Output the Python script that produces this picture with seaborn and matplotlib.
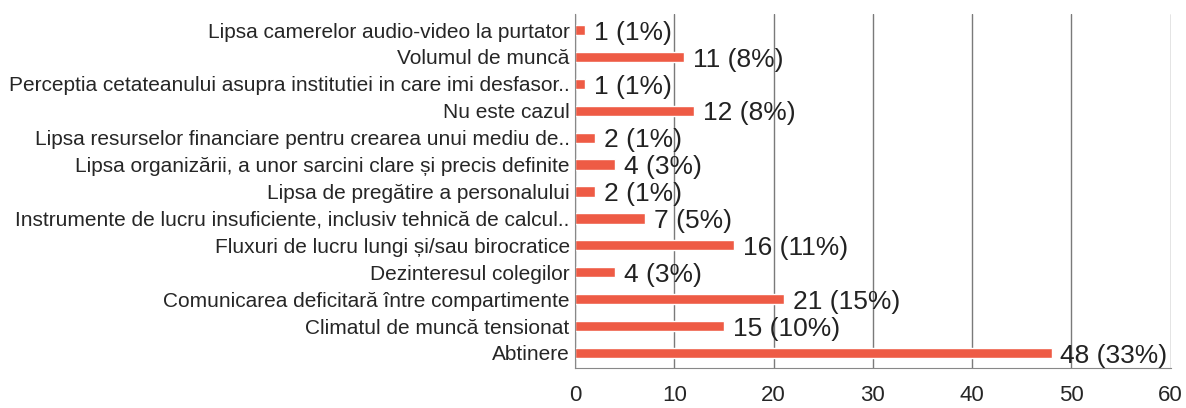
import matplotlib
matplotlib.use("Agg")
import matplotlib.pyplot as plt
import seaborn as sns
import pandas as pd

# Data (top to bottom)
categorii = [
    'Lipsa camerelor audio-video la purtator',
    'Volumul de muncă',
    'Perceptia cetateanului asupra institutiei in care imi desfasor..',
    'Nu este cazul',
    'Lipsa resurselor financiare pentru crearea unui mediu de..',
    'Lipsa organizării, a unor sarcini clare și precis definite',
    'Lipsa de pregătire a personalului',
    'Instrumente de lucru insuficiente, inclusiv tehnică de calcul..',
    'Fluxuri de lucru lungi și/sau birocratice',
    'Dezinteresul colegilor',
    'Comunicarea deficitară între compartimente',
    'Climatul de muncă tensionat',
    'Abtinere',
]
valori = [1, 11, 1, 12, 2, 4, 2, 7, 16, 4, 21, 15, 48]
procente = [1, 8, 1, 8, 1, 3, 1, 5, 11, 3, 15, 10, 33]

df = pd.DataFrame({'Categorie': categorii, 'Numar': valori, 'Procent': procente})

sns.set_style('white')
plt.rcParams['font.family'] = ['Liberation Sans', 'DejaVu Sans']

fig = plt.figure(figsize=(11.86, 4.08), dpi=100)
ax = fig.add_axes([0.485, 0.098, 0.502, 0.868])

sns.barplot(data=df, x='Numar', y='Categorie', order=categorii,
            color='#EE5B45', saturation=1, width=0.38, ax=ax)

for i, (n, p) in enumerate(zip(valori, procente)):
    ax.text(n + 0.9, i + 0.1, f'{n} ({p}%)', va='center', ha='left',
            fontsize=19, color='#222222')

ax.set_xlim(0, 60)
ax.set_xticks(range(0, 61, 10))
ax.set_ylim(len(categorii) - 0.44, -0.6)
ax.grid(axis='x', color='#7a7a7a', linewidth=1)
ax.set_axisbelow(True)
ax.set_xlabel('')
ax.set_ylabel('')
ax.tick_params(axis='x', labelsize=16, length=4, color='#888888', pad=8)
ax.tick_params(axis='y', labelsize=15, length=0, pad=4)

for s in ['top', 'right']:
    ax.spines[s].set_visible(False)
for s in ['left', 'bottom']:
    ax.spines[s].set_color('#888888')

# small ticks between categories on the left axis
ax.set_yticks([i + 0.5 for i in range(-1, len(categorii))], minor=True)
ax.tick_params(axis='y', which='minor', length=4, color='#888888')

plt.savefig('out.png', dpi=100)
plt.close()
